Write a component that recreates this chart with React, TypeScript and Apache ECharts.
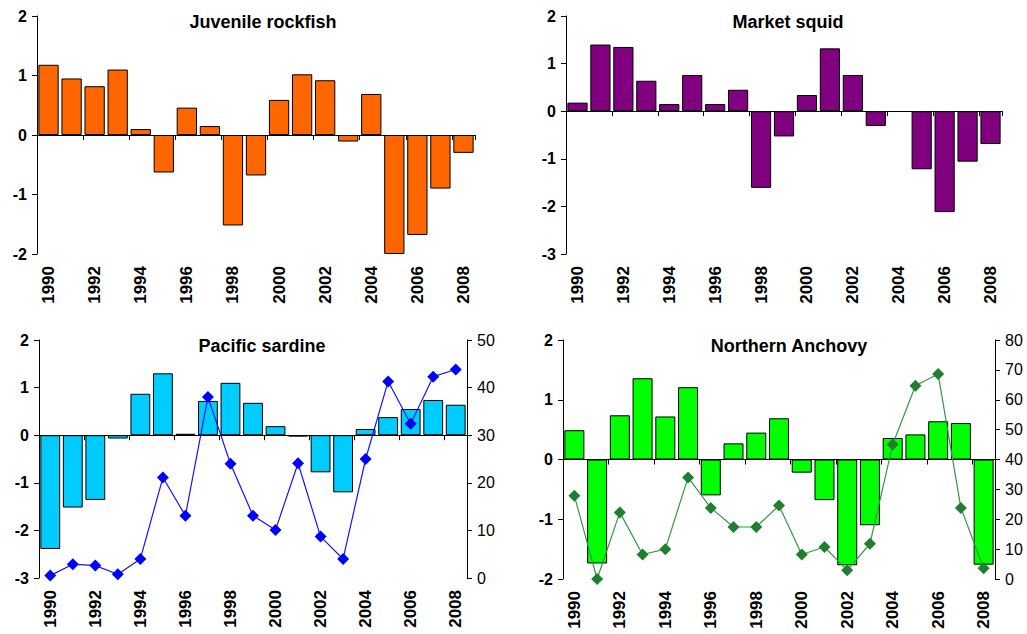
import React, { useEffect, useRef } from 'react';
import * as echarts from 'echarts';

const years = ['1990', '1991', '1992', '1993', '1994', '1995', '1996', '1997', '1998', '1999', '2000', '2001', '2002', '2003', '2004', '2005', '2006', '2007', '2008'];

const rockfish = [1.18, 0.95, 0.82, 1.1, 0.1, -0.63, 0.46, 0.15, -1.52, -0.68, 0.59, 1.02, 0.92, -0.11, 0.69, -2.0, -1.68, -0.9, -0.3];
const squid = [0.18, 1.4, 1.35, 0.64, 0.15, 0.76, 0.15, 0.45, -1.61, -0.53, 0.34, 1.32, 0.76, -0.31, null, -1.22, -2.12, -1.06, -0.69];
const sardineIndex = [-2.39, -1.52, -1.36, -0.07, 0.87, 1.3, 0.03, 0.72, 1.1, 0.68, 0.19, -0.03, -0.78, -1.2, 0.13, 0.38, 0.55, 0.74, 0.64];
const sardineLine = [0.5, 2.9, 2.6, 0.8, 4.0, 21.1, 13.1, 38.0, 24.0, 13.1, 10.1, 24.1, 8.7, 4.0, 25.0, 41.3, 32.4, 42.3, 43.8];
const anchovyIndex = [0.49, -1.74, 0.74, 1.36, 0.72, 1.21, -0.6, 0.27, 0.45, 0.69, -0.22, -0.68, -1.77, -1.1, 0.36, 0.42, 0.64, 0.61, -1.76];
const anchovyLine = [27.9, 0, 22.3, 8.2, 10.0, 34.0, 23.8, 17.4, 17.4, 24.6, 8.2, 10.7, 2.9, 11.8, 45.0, 64.7, 68.6, 23.8, 3.6];

const titles = ['Juvenile rockfish', 'Market squid', 'Pacific sardine', 'Northern Anchovy'];

const FONT = '"Liberation Sans", Arial, Helvetica, sans-serif';

export default function App() {
  const ref = useRef<HTMLDivElement>(null);

  useEffect(() => {
    if (!ref.current) return;
    const chart = echarts.init(ref.current, null, { renderer: 'svg' });

    const grids = [
      { left: 37, top: 16, width: 438, height: 238 },
      { left: 566, top: 16, width: 436, height: 238 },
      { left: 39, top: 340, width: 428, height: 238 },
      { left: 563, top: 340, width: 432, height: 239 },
    ];
    const titlePos = [
      [263, 22],
      [788, 22],
      [262, 346],
      [789, 346],
    ];
    const leftRanges = [
      [-2, 2],
      [-3, 2],
      [-3, 2],
      [-2, 2],
    ];
    const barColors = ['#FF6600', '#800080', '#00CCFF', '#00FF00'];
    const barData = [rockfish, squid, sardineIndex, anchovyIndex];

    const xAxis: any[] = [];
    const yAxis: any[] = [];
    const series: any[] = [];

    grids.forEach((g, i) => {
      xAxis.push({
        type: 'category',
        gridIndex: i,
        data: years,
        position: 'bottom',
        boundaryGap: true,
        axisLine: { show: true, onZero: true, onZeroAxisIndex: i, lineStyle: { color: '#000', width: 1 } },
        axisTick: { show: true, interval: 1, length: 5, lineStyle: { color: '#000', width: 1 } },
        axisLabel: { show: false },
        splitLine: { show: false },
      });
      xAxis.push({
        type: 'category',
        gridIndex: i,
        data: years,
        position: 'bottom',
        boundaryGap: true,
        axisLine: { show: false, onZero: false },
        axisTick: { show: false },
        axisLabel: {
          show: true,
          interval: 1,
          rotate: 90,
          margin: 12,
          fontSize: 17,
          fontWeight: 'bold',
          color: '#000',
          fontFamily: FONT,
        },
        splitLine: { show: false },
      });
      yAxis.push({
        type: 'value',
        gridIndex: i,
        position: 'left',
        min: leftRanges[i][0],
        max: leftRanges[i][1],
        interval: 1,
        axisLine: { show: true, lineStyle: { color: '#000', width: 1 } },
        axisTick: { show: true, length: 5, lineStyle: { color: '#000', width: 1 } },
        axisLabel: { fontSize: 16, fontWeight: 'bold', color: '#000', margin: 10, fontFamily: FONT },
        splitLine: { show: false },
      });
      series.push({
        type: 'bar',
        xAxisIndex: 2 * i,
        yAxisIndex: i,
        data: barData[i],
        barCategoryGap: '12%',
        itemStyle: { color: barColors[i], borderColor: '#000', borderWidth: 1 },
        z: 2,
      });
    });

    const rightAxes = [
      { grid: 2, max: 50 },
      { grid: 3, max: 80 },
    ];
    rightAxes.forEach((r) => {
      yAxis.push({
        type: 'value',
        gridIndex: r.grid,
        position: 'right',
        min: 0,
        max: r.max,
        interval: 10,
        axisLine: { show: true, lineStyle: { color: '#000', width: 1 } },
        axisTick: { show: true, length: 5, lineStyle: { color: '#000', width: 1 } },
        axisLabel: { fontSize: 16, fontWeight: 'normal', color: '#000', margin: 10, fontFamily: FONT },
        splitLine: { show: false },
      });
    });

    series.push({
      type: 'line',
      xAxisIndex: 4,
      yAxisIndex: 4,
      data: sardineLine,
      symbol: 'diamond',
      symbolSize: 12,
      lineStyle: { color: '#1414FF', width: 1.2 },
      itemStyle: { color: '#0000FF' },
      z: 5,
    });
    series.push({
      type: 'line',
      xAxisIndex: 6,
      yAxisIndex: 5,
      data: anchovyLine,
      symbol: 'diamond',
      symbolSize: 12,
      lineStyle: { color: '#339944', width: 1.2 },
      itemStyle: { color: '#1F7F2F' },
      z: 5,
    });

    const graphic = titles.map((t, i) => ({
      type: 'text',
      x: titlePos[i][0],
      y: titlePos[i][1],
      z: 10,
      style: {
        text: t,
        align: 'center',
        verticalAlign: 'middle',
        fontSize: 18,
        fontWeight: 'bold',
        fontFamily: FONT,
        fill: '#000',
      },
    }));

    chart.setOption({
      animation: false,
      backgroundColor: '#fff',
      grid: grids,
      xAxis,
      yAxis,
      series,
      graphic,
    });

    return () => {
      chart.dispose();
    };
  }, []);

  return (
    <div
      ref={ref}
      style={{ position: 'fixed', left: 0, top: 0, width: 1027, height: 634, background: '#fff' }}
    />
  );
}
